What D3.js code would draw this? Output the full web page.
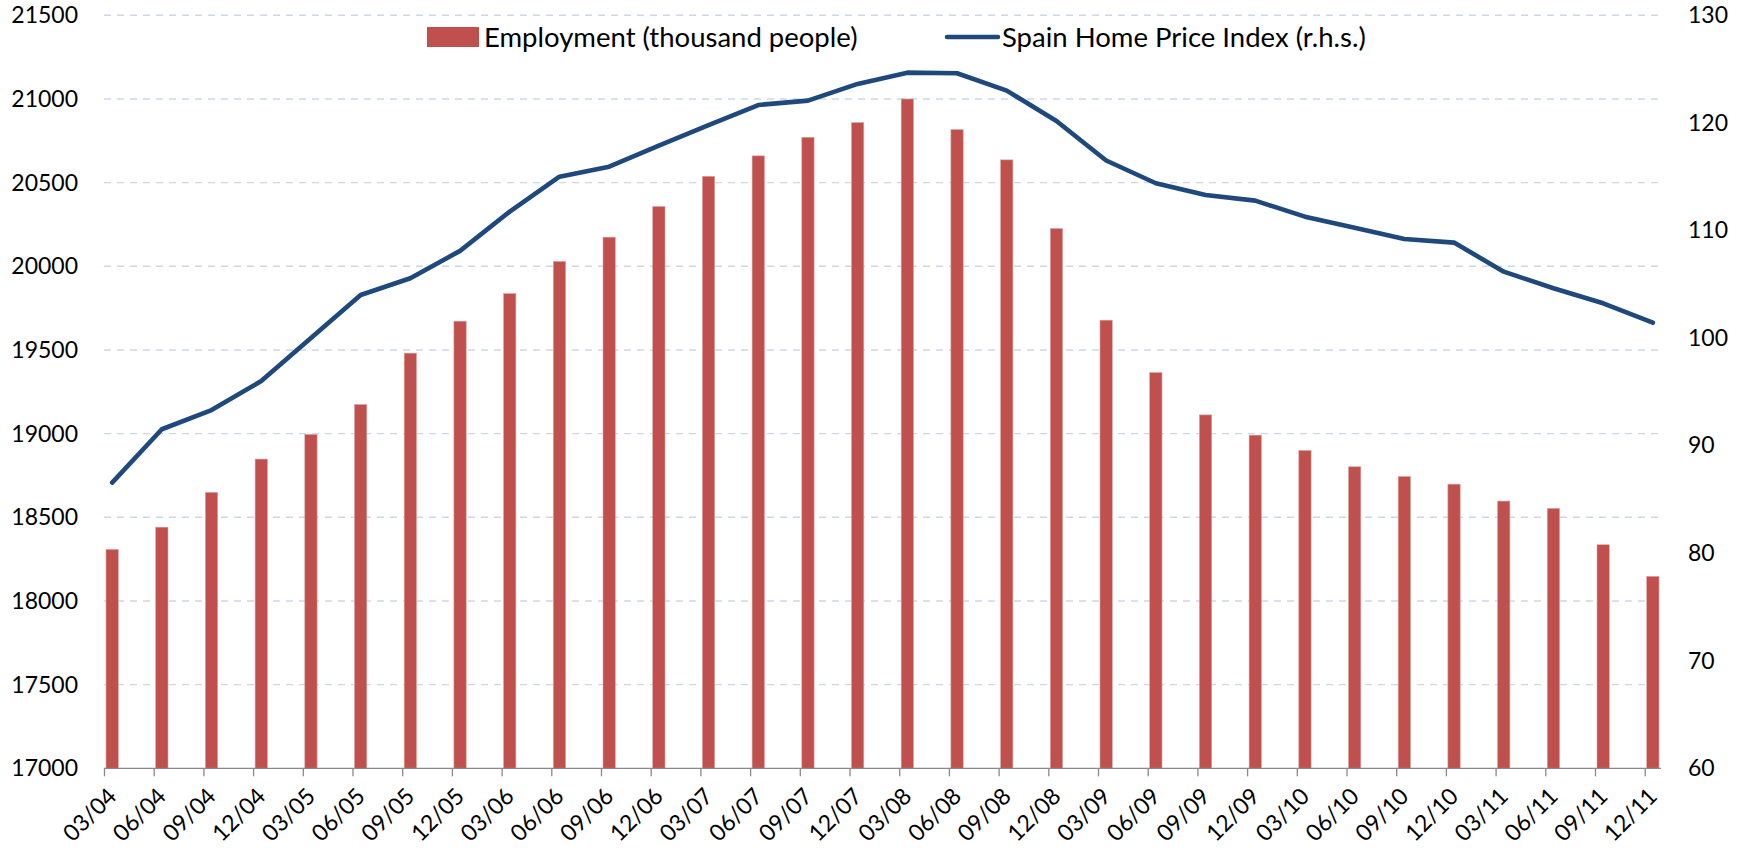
<!DOCTYPE html>
<html>
<head>
<meta charset="utf-8">
<script src="https://cdn.jsdelivr.net/npm/d3@7"></script>
<style>
  body { margin: 0; background: #fff; }
  text { font-family: Lato, "Open Sans", sans-serif; fill: #000; }
</style>
</head>
<body>
<script>
// quarterly data, 2004 - 2011
const categories = ['03/04','06/04','09/04','12/04','03/05','06/05','09/05','12/05',
  '03/06','06/06','09/06','12/06','03/07','06/07','09/07','12/07',
  '03/08','06/08','09/08','12/08','03/09','06/09','09/09','12/09',
  '03/10','06/10','09/10','12/10','03/11','06/11','09/11','12/11']

// employment, thousand people (left axis)
const employment = [18308, 18441, 18649, 18848, 18995, 19174, 19481, 19672,
  19837, 20029, 20174, 20357, 20538, 20660, 20771, 20859,
  21000, 20817, 20636, 20226, 19678, 19365, 19112, 18991,
  18899, 18802, 18744, 18698, 18597, 18553, 18336, 18147]

// home price index (right axis)
const priceIndex = [86.56, 91.52, 93.3, 96.0, 100.0, 104.0, 105.56, 108.1,
  111.75, 115.0, 115.93, 117.88, 119.78, 121.66, 122.07, 123.62,
  124.67, 124.61, 123.0, 120.18, 116.5, 114.39, 113.3, 112.77,
  111.28, 110.26, 109.21, 108.87, 106.17, 104.63, 103.23, 101.43]

const leftTicks = [17000, 17500, 18000, 18500, 19000, 19500, 20000, 20500, 21000, 21500]
const rightTicks = [60, 70, 80, 90, 100, 110, 120, 130]

const m = { width: 1746, height: 852, left: 104, right: 1661, top: 15.3, bottom: 768.3 }

const svg = d3.select('body').append('svg')
    .attr('width', m.width)
    .attr('height', m.height)

const x = d3.scalePoint()
    .domain(categories)
    .range([m.left, 1644.7])

const yL = d3.scaleLinear().domain([17000, 21500]).range([m.bottom, m.top])
const yR = d3.scaleLinear().domain([60, 130]).range([m.bottom, m.top])

const barOffset = 2, barWidth = 12.3
const mid = d => x(d) + barOffset + barWidth / 2

// gridlines
svg.append('g')
  .selectAll('line')
  .data(leftTicks.slice(1))
  .enter()
  .append('line')
    .attr('x1', m.left)
    .attr('x2', m.right)
    .attr('y1', d => yL(d))
    .attr('y2', d => yL(d))
    .attr('stroke', '#cbd8ec')
    .attr('stroke-width', 1.4)
    .attr('stroke-dasharray', '7 6')

// bars
svg.append('g')
  .selectAll('rect')
  .data(categories)
  .enter()
  .append('rect')
    .attr('x', d => x(d) + barOffset)
    .attr('y', (d, i) => yL(employment[i]))
    .attr('width', barWidth)
    .attr('height', (d, i) => m.bottom - yL(employment[i]))
    .attr('fill', '#c0504d')
    .attr('stroke', '#dca3a1')
    .attr('stroke-width', 0.6)

// price line
const line = d3.line()
    .x((d, i) => mid(categories[i]))
    .y(d => yR(d))

svg.append('path')
    .datum(priceIndex)
    .attr('d', line)
    .attr('fill', 'none')
    .attr('stroke', '#1f497d')
    .attr('stroke-width', 4.6)
    .attr('stroke-linejoin', 'round')
    .attr('stroke-linecap', 'round')

// x axis
const xAxis = svg.append('g')
    .attr('transform', `translate(0,${m.bottom})`)
    .call(d3.axisBottom(x).tickSize(8).tickSizeOuter(0).tickFormat(''))
xAxis.select('.domain').remove()
xAxis.selectAll('.tick line').attr('stroke', '#898989').attr('stroke-width', 1.3)
xAxis.append('line')
    .attr('x1', m.left)
    .attr('x2', m.right)
    .attr('stroke', '#898989')
    .attr('stroke-width', 1.3)

svg.append('g')
  .selectAll('text')
  .data(categories)
  .enter()
  .append('text')
    .attr('transform', d => `translate(${mid(d)},792) rotate(-45)`)
    .attr('text-anchor', 'end')
    .attr('dy', '0.35em')
    .style('font-size', '23px')
    .text(d => d)

// left axis labels
const yAxisL = svg.append('g')
    .attr('transform', 'translate(78,0)')
    .call(d3.axisLeft(yL).tickValues(leftTicks).tickSize(0).tickPadding(0).tickFormat(d3.format('d')))
yAxisL.select('.domain').remove()
yAxisL.selectAll('text').style('font-size', '23px').attr('fill', '#000')

// right axis labels
const yAxisR = svg.append('g')
    .attr('transform', 'translate(1688,0)')
    .call(d3.axisRight(yR).tickValues(rightTicks).tickSize(0).tickPadding(0))
yAxisR.select('.domain').remove()
yAxisR.selectAll('text').style('font-size', '23px').attr('fill', '#000')

// legend
const legend = svg.append('g')
legend.append('rect')
    .attr('x', 427).attr('y', 27)
    .attr('width', 52).attr('height', 20)
    .attr('fill', '#c0504d')
legend.append('text')
    .attr('x', 484).attr('y', 37)
    .attr('dy', '0.35em')
    .style('font-size', '27.5px')
    .text('Employment (thousand people)')
legend.append('line')
    .attr('x1', 947).attr('x2', 998)
    .attr('y1', 37).attr('y2', 37)
    .attr('stroke', '#1f497d')
    .attr('stroke-width', 4.5)
    .attr('stroke-linecap', 'round')
legend.append('text')
    .attr('x', 1002).attr('y', 37)
    .attr('dy', '0.35em')
    .style('font-size', '27.5px')
    .text('Spain Home Price Index (r.h.s.)')
</script>
</body>
</html>
